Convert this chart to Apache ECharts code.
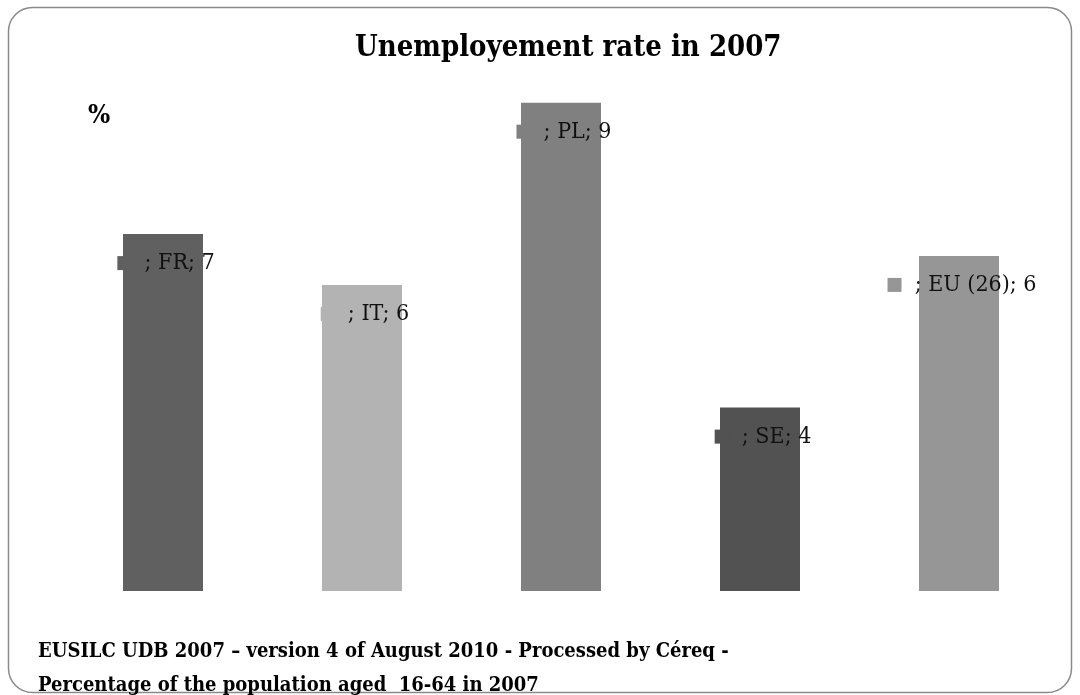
<!DOCTYPE html>
<html>
<head>
<meta charset="utf-8">
<title>Unemployement rate in 2007</title>
<script src="https://cdn.jsdelivr.net/npm/echarts@6/dist/echarts.min.js"></script>
<style>
  html, body { margin: 0; padding: 0; background: #ffffff; }
  #chart { width: 1080px; height: 695px; }
</style>
</head>
<body>
<div id="chart"></div>
<script>
// Unemployment rate by country, 2007 (%)
var countries = ['FR', 'IT', 'PL', 'SE', 'EU (26)'];
var rates = [6.87, 5.89, 9.4, 3.53, 6.45];
var barColors = ['#606060', '#b3b3b3', '#808080', '#525252', '#969696'];

var serif = '"DejaVu Serif Condensed", "DejaVu Serif", serif';

// one coloured key square per bar, used in the value labels
var rich = { t: { fontFamily: serif, fontSize: 23, color: '#111111', lineHeight: 26 } };
barColors.forEach(function (c, i) {
  rich['sq' + i] = { width: 14, height: 14, backgroundColor: c };
});

var chart = echarts.init(document.getElementById('chart'), null, { renderer: 'canvas' });

chart.setOption({
  animation: false,
  backgroundColor: '#ffffff',
  title: [
    {
      text: 'Unemployement rate in 2007',
      left: 355,
      top: 34,
      padding: 0,
      textStyle: { fontFamily: serif, fontWeight: 'bold', fontSize: 29, color: '#000000' }
    },
    {
      text: '%',
      left: 88,
      top: 103,
      padding: 0,
      textStyle: { fontFamily: serif, fontWeight: 'bold', fontSize: 26, color: '#000000' }
    },
    {
      text: 'EUSILC UDB 2007 \u2013 version 4 of August 2010 - Processed by C\u00e9req -\nPercentage of the population aged  16-64 in 2007',
      left: 38,
      top: 635,
      padding: 0,
      textStyle: { fontFamily: serif, fontWeight: 'bold', fontSize: 20, color: '#000000', lineHeight: 34 }
    }
  ],
  graphic: [
    {
      type: 'rect',
      silent: true,
      shape: { x: 8.5, y: 7.5, width: 1063, height: 685, r: 24 },
      style: { fill: 'none', stroke: '#8a8a8a', lineWidth: 1.5 }
    }
  ],
  grid: { left: 63.5, right: 21.5, top: 71.5, bottom: 104 },
  xAxis: {
    type: 'category',
    data: countries,
    show: false
  },
  yAxis: {
    type: 'value',
    min: 0,
    max: 10,
    show: false,
    splitLine: { show: false }
  },
  series: [
    {
      type: 'bar',
      barWidth: 80,
      data: rates.map(function (v, i) {
        return { value: v, itemStyle: { color: barColors[i] } };
      }),
      label: {
        show: true,
        position: 'insideTop',
        distance: 16,
        offset: [3, 0],
        formatter: function (p) {
          return '{sq' + p.dataIndex + '|}{t|  ; ' + p.name + '; ' + Math.round(p.value) + '}';
        },
        rich: rich
      }
    }
  ]
});
</script>
</body>
</html>
